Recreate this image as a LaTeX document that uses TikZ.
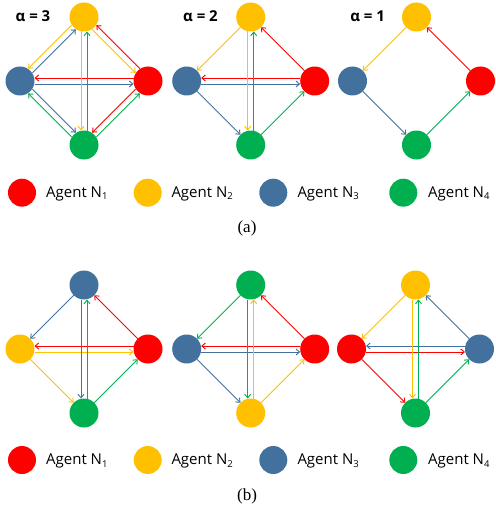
\documentclass[tikz,border=0pt]{standalone}
\usepackage{fontspec}
\usetikzlibrary{calc,arrows.meta}
\newfontfamily\agentfont{Open Sans}
\newfontfamily\capfont{Liberation Serif}
\definecolor{cR}{HTML}{FF0000}
\definecolor{cY}{HTML}{FFC000}
\definecolor{cB}{HTML}{41719C}
\definecolor{cG}{HTML}{00B050}
\tikzset{
  agent/.style={circle,minimum size=29pt,inner sep=0pt,draw=none},
  agentedge/.style={line width=0.95pt,-{Straight Barb[length=3.5pt,width=6pt]}},
  legtext/.style={anchor=base west,inner sep=0pt,font=\agentfont\fontsize{15}{15}\selectfont},
  alphalabel/.style={inner sep=0pt,font=\agentfont\bfseries\fontsize{15}{15}\selectfont},
  captext/.style={inner sep=0pt,font=\capfont\fontsize{17}{17}\selectfont},
}
\newcommand\agentedge[4]{\draw[agentedge,#1] ($(#2)!14.5pt!(#3)!#4!-90:(#3)$) -- ($(#3)!14.5pt!(#2)!#4!90:(#2)$);}
\newcommand\subidx[1]{\raisebox{-2.5pt}{\fontsize{9.5}{9.5}\selectfont #1}}
\begin{document}
\begin{tikzpicture}[x=1pt,y=-1pt]
\useasboundingbox (0,0) rectangle (495,508);
% ---------- (a) panel 1 : alpha = 3
\node[alphalabel] (la1) at (33,16) {α = 3};
\node[agent,fill=cY] (a1Y) at (84,17) {};
\node[agent,fill=cB] (a1B) at (20,81) {};
\node[agent,fill=cR] (a1R) at (148,81) {};
\node[agent,fill=cG] (a1G) at (84,145) {};
\agentedge{cY}{a1Y}{a1B}{3pt}
\agentedge{cB}{a1B}{a1Y}{3pt}
\agentedge{cR}{a1R}{a1Y}{3pt}
\agentedge{cY}{a1Y}{a1R}{3pt}
\agentedge{cR}{a1R}{a1B}{3pt}
\agentedge{cB}{a1B}{a1R}{3pt}
\agentedge{cY}{a1Y}{a1G}{3pt}
\agentedge{cG}{a1G}{a1Y}{3pt}
\agentedge{cG}{a1G}{a1B}{-3pt}
\agentedge{cB}{a1B}{a1G}{-3pt}
\agentedge{cR}{a1R}{a1G}{3pt}
\agentedge{cG}{a1G}{a1R}{3pt}
% ---------- (a) panel 2 : alpha = 2
\node[alphalabel] (la2) at (200.5,16) {α = 2};
\node[agent,fill=cY] (a2Y) at (250.7,17) {};
\node[agent,fill=cB] (a2B) at (186.7,81) {};
\node[agent,fill=cR] (a2R) at (314.7,81) {};
\node[agent,fill=cG] (a2G) at (250.7,145) {};
\agentedge{cY}{a2Y}{a2B}{0pt}
\agentedge{cR}{a2R}{a2Y}{0pt}
\agentedge{cB}{a2B}{a2G}{0pt}
\agentedge{cG}{a2G}{a2R}{0pt}
\agentedge{cR}{a2R}{a2B}{3pt}
\agentedge{cB}{a2B}{a2R}{3pt}
\agentedge{cY}{a2Y}{a2G}{3pt}
\agentedge{cG}{a2G}{a2Y}{3pt}
% ---------- (a) panel 3 : alpha = 1
\node[alphalabel] (la3) at (367.7,16) {α = 1};
\node[agent,fill=cY] (a3Y) at (416.5,17) {};
\node[agent,fill=cB] (a3B) at (352.5,81) {};
\node[agent,fill=cR] (a3R) at (480.5,81) {};
\node[agent,fill=cG] (a3G) at (416.5,145) {};
\agentedge{cR}{a3R}{a3Y}{0pt}
\agentedge{cY}{a3Y}{a3B}{0pt}
\agentedge{cB}{a3B}{a3G}{0pt}
\agentedge{cG}{a3G}{a3R}{0pt}
% ---------- legend (a)
\node[agent,minimum size=28pt,fill=cR] (lgaR) at (22,192.7) {};
\node[agent,minimum size=28pt,fill=cY] (lgaY) at (147.7,192.7) {};
\node[agent,minimum size=28pt,fill=cB] (lgaB) at (273.3,192.7) {};
\node[agent,minimum size=28pt,fill=cG] (lgaG) at (403.3,192.7) {};
\node[legtext] (tgaR) at (46,197.2) {Agent N\subidx{1}};
\node[legtext] (tgaY) at (171.3,197.2) {Agent N\subidx{2}};
\node[legtext] (tgaB) at (297.3,197.2) {Agent N\subidx{3}};
\node[legtext] (tgaG) at (428,197.2) {Agent N\subidx{4}};
\node[captext] (capa) at (247,228) {(a)};
% ---------- (b) panel 1
\node[agent,fill=cB] (b1B) at (84,285) {};
\node[agent,fill=cY] (b1Y) at (20,349) {};
\node[agent,fill=cR] (b1R) at (148,349) {};
\node[agent,fill=cG] (b1G) at (84,413) {};
\agentedge{cB}{b1B}{b1Y}{0pt}
\agentedge{cR}{b1R}{b1B}{0pt}
\agentedge{cY}{b1Y}{b1G}{0pt}
\agentedge{cG}{b1G}{b1R}{0pt}
\agentedge{cR}{b1R}{b1Y}{3pt}
\agentedge{cY}{b1Y}{b1R}{3pt}
\agentedge{cB}{b1B}{b1G}{3pt}
\agentedge{cG}{b1G}{b1B}{3pt}
% ---------- (b) panel 2
\node[agent,fill=cG] (b2G) at (250.7,285) {};
\node[agent,fill=cB] (b2B) at (186.7,349) {};
\node[agent,fill=cR] (b2R) at (314.7,349) {};
\node[agent,fill=cY] (b2Y) at (250.7,413) {};
\agentedge{cG}{b2G}{b2B}{0pt}
\agentedge{cR}{b2R}{b2G}{0pt}
\agentedge{cB}{b2B}{b2Y}{0pt}
\agentedge{cY}{b2Y}{b2R}{0pt}
\agentedge{cR}{b2R}{b2B}{3pt}
\agentedge{cB}{b2B}{b2R}{3pt}
\agentedge{cG}{b2G}{b2Y}{3pt}
\agentedge{cY}{b2Y}{b2G}{3pt}
% ---------- (b) panel 3
\node[agent,fill=cY] (b3Y) at (415.5,285) {};
\node[agent,fill=cR] (b3R) at (351.5,349) {};
\node[agent,fill=cB] (b3B) at (479.5,349) {};
\node[agent,fill=cG] (b3G) at (415.5,413) {};
\agentedge{cY}{b3Y}{b3R}{0pt}
\agentedge{cB}{b3B}{b3Y}{0pt}
\agentedge{cR}{b3R}{b3G}{0pt}
\agentedge{cG}{b3G}{b3B}{0pt}
\agentedge{cB}{b3B}{b3R}{3pt}
\agentedge{cR}{b3R}{b3B}{3pt}
\agentedge{cY}{b3Y}{b3G}{3pt}
\agentedge{cG}{b3G}{b3Y}{3pt}
% ---------- legend (b)
\node[agent,minimum size=28pt,fill=cR] (lgbR) at (22,460) {};
\node[agent,minimum size=28pt,fill=cY] (lgbY) at (147.7,460) {};
\node[agent,minimum size=28pt,fill=cB] (lgbB) at (273.3,460) {};
\node[agent,minimum size=28pt,fill=cG] (lgbG) at (403.3,460) {};
\node[legtext] (tgbR) at (46,464.5) {Agent N\subidx{1}};
\node[legtext] (tgbY) at (171.3,464.5) {Agent N\subidx{2}};
\node[legtext] (tgbB) at (297.3,464.5) {Agent N\subidx{3}};
\node[legtext] (tgbG) at (428,464.5) {Agent N\subidx{4}};
\node[captext] (capb) at (247,496.7) {(b)};
\end{tikzpicture}
\end{document}
